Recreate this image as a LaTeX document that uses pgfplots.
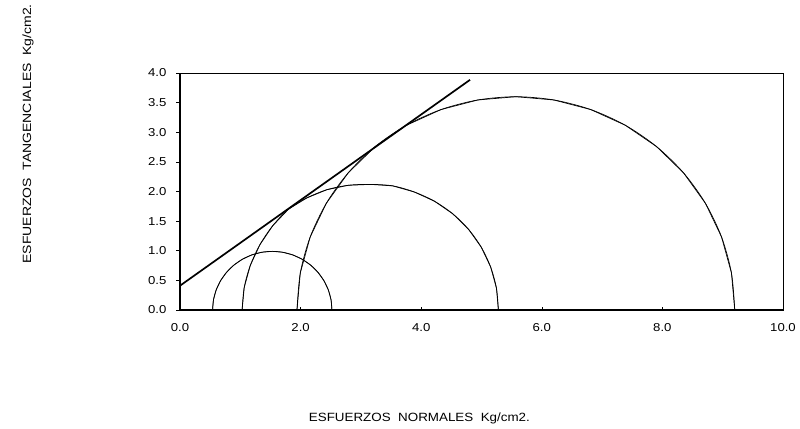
\documentclass[border=0pt]{standalone}
\usepackage{pgfplots}
\pgfplotsset{compat=1.18}
\usepackage{fontspec}
\setmainfont{Liberation Sans}[FakeStretch=1.15]
\newfontfamily\xlabfont{Liberation Sans}[FakeStretch=1.12]
\newfontfamily\ylabfont{Liberation Sans}[FakeStretch=1.17]
\begin{document}
\begin{tikzpicture}
\path[use as bounding box] (-180bp,-119bp) rectangle (620bp,310bp);
\begin{axis}[
  at={(0,0)}, anchor=south west,
  scale only axis, width=603bp, height=237bp,
  xmin=0, xmax=10, ymin=0, ymax=4,
  xtick={0,2,...,10}, ytick={0,0.5,...,4},
  xtick pos=bottom, ytick pos=left,
  tick align=inside,
  major tick length=3.5bp,
  y tick style={xshift=-3.5bp, black, line width=0.6pt},
  x tick style={black, line width=0.6pt},
  axis line style={line width=0.6pt},
  /pgf/number format/assume math mode=true,
  /pgf/number format/.cd, fixed, fixed zerofill, precision=1,
  /pgfplots/.cd,
  tick label style={font=\fontsize{11.5}{13}\selectfont},
  x tick label style={yshift=-10bp},
  y tick label style={xshift=-10bp},
  xlabel={ESFUERZOS\ \ NORMALES\ \ Kg/cm2.},
  ylabel={ESFUERZOS\ \ TANGENCIALES\ \ Kg/cm2.},
  xlabel style={at={(axis description cs:0.397,-0.456)}, anchor=center, font=\xlabfont\fontsize{12}{14}\selectfont},
  ylabel style={at={(axis description cs:-0.252,0.743)}, anchor=center, rotate=0, font=\ylabfont\fontsize{12}{14}\selectfont},
  clip=false,
]
% circle 1
\addplot[black, line width=0.7pt, smooth] coordinates {
(0.540,0) (0.555,0.172) (0.600,0.339) (0.673,0.495) (0.772,0.636) (0.894,0.758) (1.035,0.857) (1.191,0.930) (1.358,0.975) (1.530,0.990) (1.702,0.975) (1.869,0.930) (2.025,0.857) (2.166,0.758) (2.288,0.636) (2.387,0.495) (2.460,0.339) (2.505,0.172) (2.520,0)};
\addplot[black, line width=0.7pt] coordinates {
(0.540,0) (0.555,0.172) (0.600,0.339) (0.673,0.495) (0.772,0.636) (0.894,0.758) (1.035,0.857) (1.191,0.930) (1.358,0.975) (1.530,0.990) (1.702,0.975) (1.869,0.930) (2.025,0.857) (2.166,0.758) (2.288,0.636) (2.387,0.495) (2.460,0.339) (2.505,0.172) (2.520,0)};
% circle 2
\addplot[black, line width=0.7pt, smooth] coordinates {
(1.030,0) (1.065,0.380) (1.165,0.750) (1.324,1.100) (1.536,1.420) (1.797,1.700) (2.100,1.890) (2.435,2.030) (2.792,2.105) (3.160,2.120) (3.528,2.095) (3.885,1.992) (4.220,1.836) (4.523,1.624) (4.784,1.363) (4.996,1.060) (5.152,0.725) (5.248,0.368) (5.280,0)};
\addplot[black, line width=0.7pt] coordinates {
(1.030,0) (1.065,0.380) (1.165,0.750) (1.324,1.100) (1.536,1.420) (1.797,1.700) (2.100,1.890) (2.435,2.030) (2.792,2.105) (3.160,2.120) (3.528,2.095) (3.885,1.992) (4.220,1.836) (4.523,1.624) (4.784,1.363) (4.996,1.060) (5.152,0.725) (5.248,0.368) (5.280,0)};
% circle 3
\addplot[black, line width=0.7pt, smooth] coordinates {
(1.940,0) (1.995,0.625) (2.159,1.232) (2.426,1.800) (2.789,2.314) (3.237,2.758) (3.755,3.118) (4.329,3.383) (4.940,3.545) (5.570,3.600) (6.200,3.545) (6.812,3.383) (7.385,3.118) (7.903,2.758) (8.351,2.314) (8.714,1.800) (8.981,1.232) (9.145,0.625) (9.200,0)};
\addplot[black, line width=0.7pt] coordinates {
(1.940,0) (1.995,0.625) (2.159,1.232) (2.426,1.800) (2.789,2.314) (3.237,2.758) (3.755,3.118) (4.329,3.383) (4.940,3.545) (5.570,3.600) (6.200,3.545) (6.812,3.383) (7.385,3.118) (7.903,2.758) (8.351,2.314) (8.714,1.800) (8.981,1.232) (9.145,0.625) (9.200,0)};
% envelope
\addplot[black, line width=1.7pt] coordinates {(0,0.41) (4.81,3.885)};
% thicker left and bottom axis lines
\draw[black, line width=1.4pt] (axis cs:0,4) -- (axis cs:0,0) -- (axis cs:10,0);
\end{axis}
\end{tikzpicture}
\end{document}
